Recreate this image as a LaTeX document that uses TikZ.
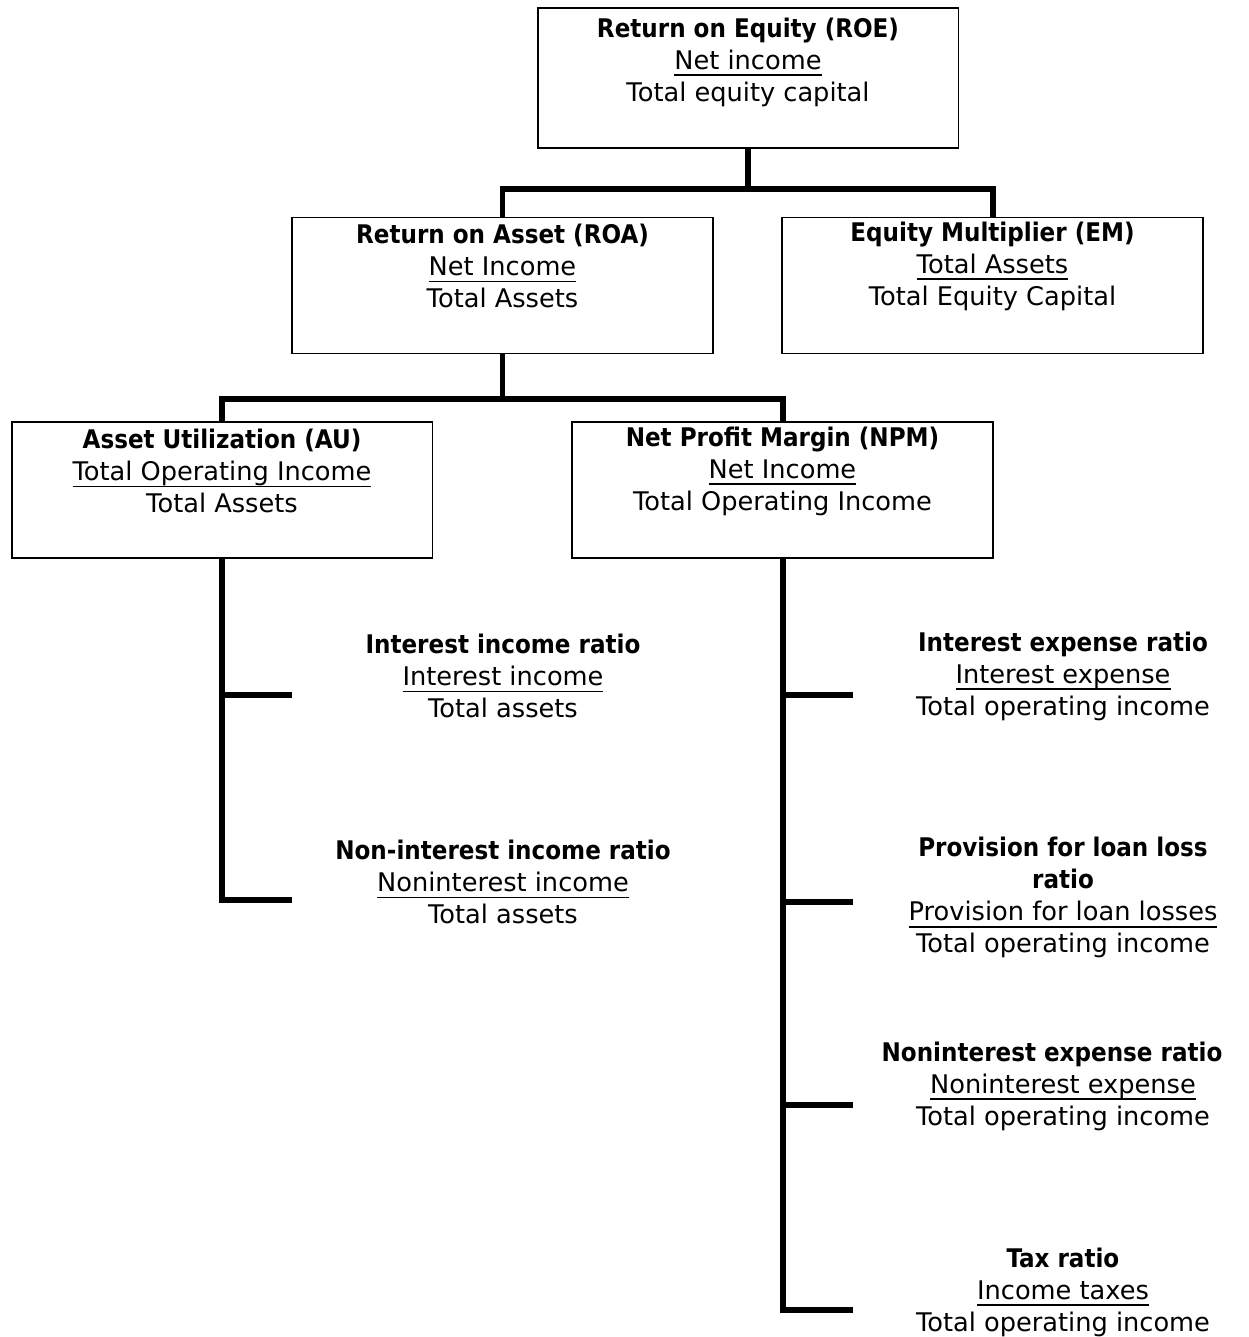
\documentclass[tikz,border=0pt]{standalone}
\usepackage{fontspec}
\setmainfont{DejaVu Sans}[BoldFont={DejaVu Sans Condensed Bold}]
\usepackage{tikz}
\usetikzlibrary{positioning,calc}

\newcommand{\numer}[1]{{\sbox0{#1}\rlap{\usebox0}\rule[-0.27em]{\wd0}{0.075em}}}

\begin{document}
\begin{tikzpicture}[
    x=0.02cm, y=-0.02cm,
    box/.style={rectangle, draw, line width=1.1pt, minimum width=8.42cm, minimum height=2.72cm},
    txt/.style={align=center, inner sep=0pt, font=\fontsize{14.6}{18.2}\selectfont},
    conn/.style={line width=3.4pt}
]
\useasboundingbox (0,0) rectangle (1248,1337);

% boxes
\node[box, minimum height=2.8cm] (roe) at (748,78) {};
\node[box] (roa) at (502.5,285.5) {};
\node[box] (em)  at (992.5,285.5) {};
\node[box] (au)  at (222,490) {};
\node[box] (npm) at (782.5,490) {};

\node[txt] (roetxt) at (748,62) {\textbf{Return on Equity (ROE)}\\ \numer{Net income}\\ Total equity capital};
\node[txt] (roatxt) at (502.5,266) {\textbf{Return on Asset (ROA)}\\ \numer{Net Income}\\ Total Assets};
\node[txt] (emtxt)  at (992.5,266) {\textbf{Equity Multiplier (EM)}\\ \numer{Total Assets}\\ Total Equity Capital};
\node[txt] (autxt)  at (222,471) {\textbf{Asset Utilization (AU)}\\ \numer{Total Operating Income}\\ Total Assets};
\node[txt] (npmtxt) at (782.5,471) {\textbf{Net Profit Margin (NPM)}\\ \numer{Net Income}\\ Total Operating Income};

% tree connectors
\draw[conn] (roe.south) -- ++(0,42);
\draw[conn] (roa.north) -- ++(0,-28) -| (em.north);
\draw[conn] (roa.south) -- ++(0,47);
\draw[conn] (au.north) -- ++(0,-22) -| (npm.north);

% ratios under AU
\node[txt] (iir) at (503,676) {\textbf{Interest income ratio}\\ \numer{Interest income}\\ Total assets};
\node[txt] (nir) at (503,882) {\textbf{Non-interest income ratio}\\ \numer{Noninterest income}\\ Total assets};

% ratios under NPM
\node[txt] (ier) at (1063,676) {\textbf{Interest expense ratio}\\ \numer{Interest expense}\\ Total operating income};
\node[txt] (plr) at (1063,897.5) {\textbf{Provision for loan loss}\\ \textbf{ratio}\\ \numer{Provision for loan losses}\\ Total operating income};
\node[txt] (ner) at (1063,1086) {\textbf{Noninterest expense ratio}\hspace*{0.44cm}\\ \numer{Noninterest expense}\\ Total operating income};
\node[txt] (txr) at (1063,1292) {\textbf{Tax ratio}\\ \numer{Income taxes}\\ Total operating income};

\foreach \i/\y in {1/695, 2/900} {
    \coordinate (a\i) at (292,\y);
}
\foreach \i/\y in {1/695, 2/902, 3/1105, 4/1310} {
    \coordinate (n\i) at (853,\y);
}
\draw[conn] (au.south) |- (a2);
\draw[conn] (au.south |- a1) -- (a1);
\draw[conn] (npm.south) |- (n4);
\foreach \i in {1,2,3} {
    \draw[conn] (npm.south |- n\i) -- (n\i);
}
\end{tikzpicture}
\end{document}
